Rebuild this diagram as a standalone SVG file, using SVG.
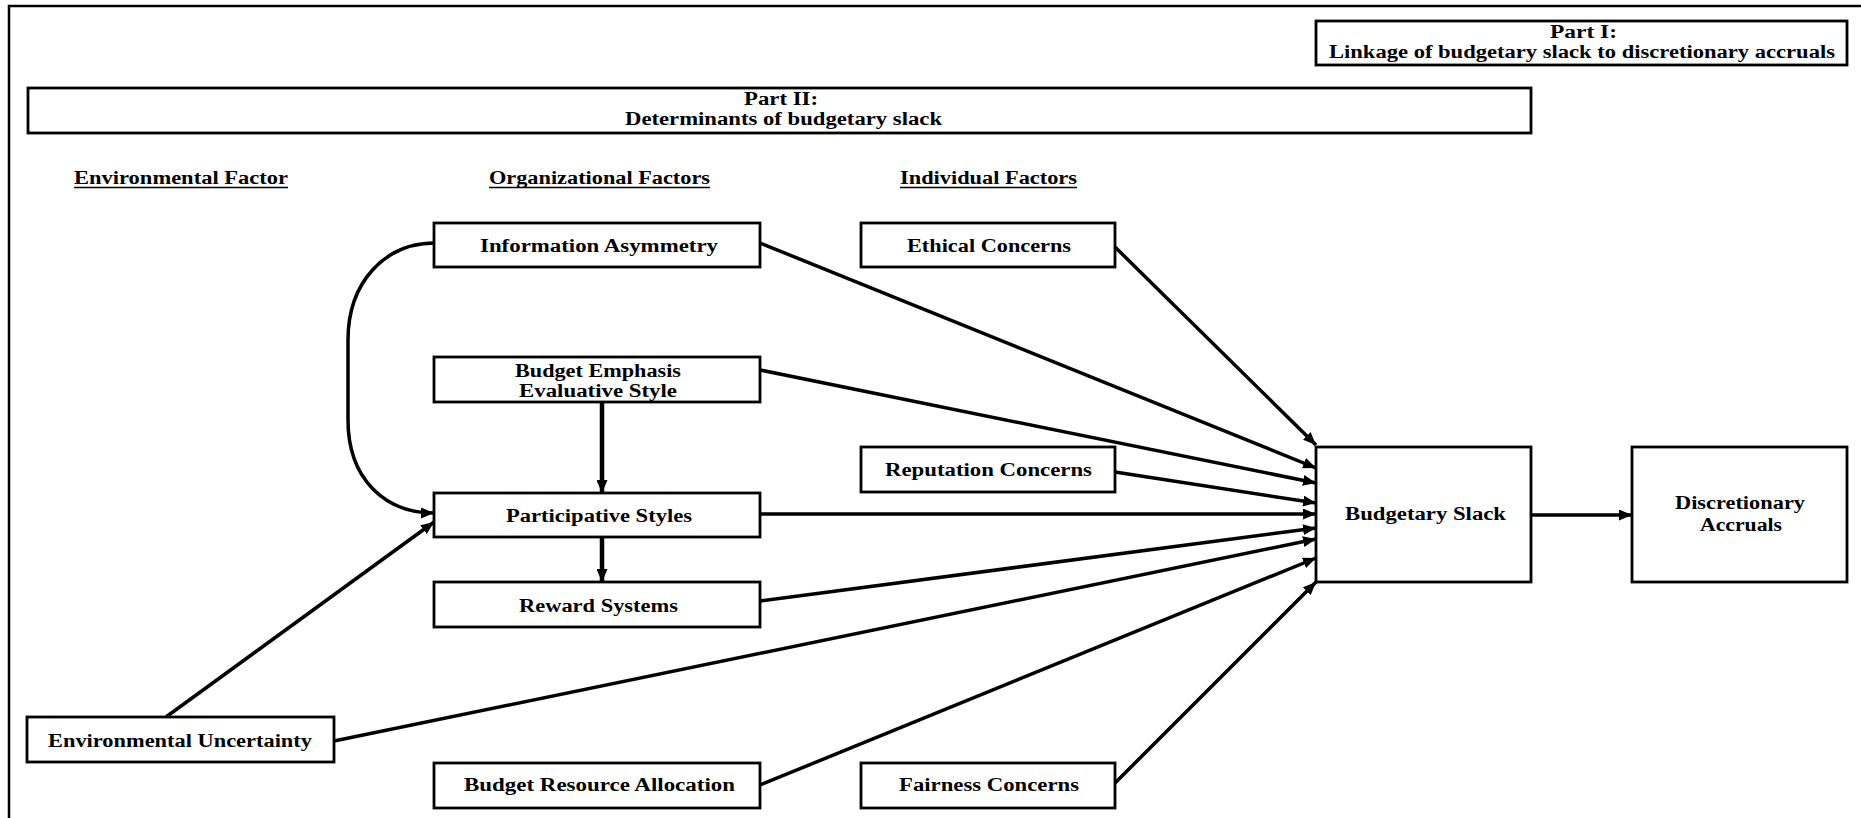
<svg xmlns="http://www.w3.org/2000/svg" width="1861" height="818" viewBox="0 0 1861 818">
<style>
.box{fill:#fff;stroke:#000;stroke-width:2.8}
.t{font-family:"Liberation Serif","Times New Roman",serif;font-weight:bold;font-size:18px;fill:#000}
.c{fill:none;stroke:#000;stroke-width:3.5}
.v{fill:none;stroke:#000;stroke-width:4.5}
.u{stroke:#000;stroke-width:1.5}
</style>
<defs>
<marker id="ah" markerUnits="userSpaceOnUse" markerWidth="13" markerHeight="11" refX="13" refY="5.5" orient="auto">
<path d="M0,0 L13,5.5 L0,11 z" fill="#000"/>
</marker>
</defs>
<rect width="1861" height="818" fill="#fff"/>
<g id="frame">
<path d="M9,818 L9,6 L1861,6" fill="none" stroke="#000" stroke-width="2.5"/>
</g>
<g id="part1">
<rect class="box" x="1316" y="21" width="531" height="44"/>
<text class="t" x="1550" y="38" textLength="67" lengthAdjust="spacingAndGlyphs">Part I:</text>
<text class="t" x="1329" y="58" textLength="506" lengthAdjust="spacingAndGlyphs">Linkage of budgetary slack to discretionary accruals</text>
</g>
<g id="part2">
<rect class="box" x="28" y="88" width="1503" height="45"/>
<text class="t" x="744" y="105" textLength="74" lengthAdjust="spacingAndGlyphs">Part II:</text>
<text class="t" x="625" y="125" textLength="317" lengthAdjust="spacingAndGlyphs">Determinants of budgetary slack</text>
</g>
<g id="headers">
<text class="t" x="74" y="184" textLength="214" lengthAdjust="spacingAndGlyphs">Environmental Factor</text>
<line class="u" x1="74" y1="187.5" x2="288" y2="187.5"/>
<text class="t" x="489" y="184" textLength="221" lengthAdjust="spacingAndGlyphs">Organizational Factors</text>
<line class="u" x1="489" y1="187.5" x2="710" y2="187.5"/>
<text class="t" x="900" y="184" textLength="177" lengthAdjust="spacingAndGlyphs">Individual Factors</text>
<line class="u" x1="900" y1="187.5" x2="1077" y2="187.5"/>
</g>
<g id="connectors">
<line class="c" x1="760" y1="243" x2="1316" y2="468" marker-end="url(#ah)"/>
<line class="c" x1="1115" y1="247" x2="1316" y2="445" marker-end="url(#ah)"/>
<line class="c" x1="760" y1="370" x2="1316" y2="483" marker-end="url(#ah)"/>
<line class="c" x1="1115" y1="472" x2="1316" y2="503" marker-end="url(#ah)"/>
<line class="c" x1="760" y1="514" x2="1316" y2="514" marker-end="url(#ah)"/>
<line class="c" x1="760" y1="601" x2="1316" y2="528" marker-end="url(#ah)"/>
<line class="c" x1="334" y1="741" x2="1316" y2="539" marker-end="url(#ah)"/>
<line class="c" x1="760" y1="785" x2="1316" y2="558" marker-end="url(#ah)"/>
<line class="c" x1="1115" y1="783" x2="1316" y2="582" marker-end="url(#ah)"/>
<line class="c" x1="1531" y1="515" x2="1632" y2="515" marker-end="url(#ah)"/>
<line class="v" x1="602" y1="402" x2="602" y2="493" marker-end="url(#ah)"/>
<line class="v" x1="602" y1="537" x2="602" y2="582" marker-end="url(#ah)"/>
<line class="c" x1="166" y1="717" x2="434" y2="522" marker-end="url(#ah)"/>
<path class="c" d="M435,243 C385,243 348,282 348,340 L348,420 C348,478 384,513 434,513" marker-end="url(#ah)"/>
</g>
<g id="info-asymmetry">
<rect class="box" x="434" y="223" width="326" height="44"/>
<text class="t" x="480" y="252" textLength="238" lengthAdjust="spacingAndGlyphs">Information Asymmetry</text>
</g>
<g id="ethical-concerns">
<rect class="box" x="861" y="223" width="254" height="44"/>
<text class="t" x="907" y="252" textLength="164" lengthAdjust="spacingAndGlyphs">Ethical Concerns</text>
</g>
<g id="budget-emphasis">
<rect class="box" x="434" y="357" width="326" height="45"/>
<text class="t" x="515" y="377" textLength="166" lengthAdjust="spacingAndGlyphs">Budget Emphasis</text>
<text class="t" x="519" y="397" textLength="158" lengthAdjust="spacingAndGlyphs">Evaluative Style</text>
</g>
<g id="reputation-concerns">
<rect class="box" x="861" y="447" width="254" height="45"/>
<text class="t" x="885" y="476" textLength="207" lengthAdjust="spacingAndGlyphs">Reputation Concerns</text>
</g>
<g id="participative-styles">
<rect class="box" x="434" y="493" width="326" height="44"/>
<text class="t" x="506" y="522" textLength="186" lengthAdjust="spacingAndGlyphs">Participative Styles</text>
</g>
<g id="reward-systems">
<rect class="box" x="434" y="582" width="326" height="45"/>
<text class="t" x="519" y="612" textLength="159" lengthAdjust="spacingAndGlyphs">Reward Systems</text>
</g>
<g id="environmental-uncertainty">
<rect class="box" x="27" y="717" width="307" height="45"/>
<text class="t" x="48" y="747" textLength="264" lengthAdjust="spacingAndGlyphs">Environmental Uncertainty</text>
</g>
<g id="budget-resource-allocation">
<rect class="box" x="434" y="763" width="326" height="45"/>
<text class="t" x="464" y="791" textLength="271" lengthAdjust="spacingAndGlyphs">Budget Resource Allocation</text>
</g>
<g id="fairness-concerns">
<rect class="box" x="861" y="763" width="254" height="45"/>
<text class="t" x="899" y="791" textLength="180" lengthAdjust="spacingAndGlyphs">Fairness Concerns</text>
</g>
<g id="budgetary-slack">
<rect class="box" x="1316" y="447" width="215" height="135"/>
<text class="t" x="1345" y="520" textLength="161" lengthAdjust="spacingAndGlyphs">Budgetary Slack</text>
</g>
<g id="discretionary-accruals">
<rect class="box" x="1632" y="447" width="215" height="135"/>
<text class="t" x="1675" y="509" textLength="130" lengthAdjust="spacingAndGlyphs">Discretionary</text>
<text class="t" x="1700" y="531" textLength="82" lengthAdjust="spacingAndGlyphs">Accruals</text>
</g>
</svg>
